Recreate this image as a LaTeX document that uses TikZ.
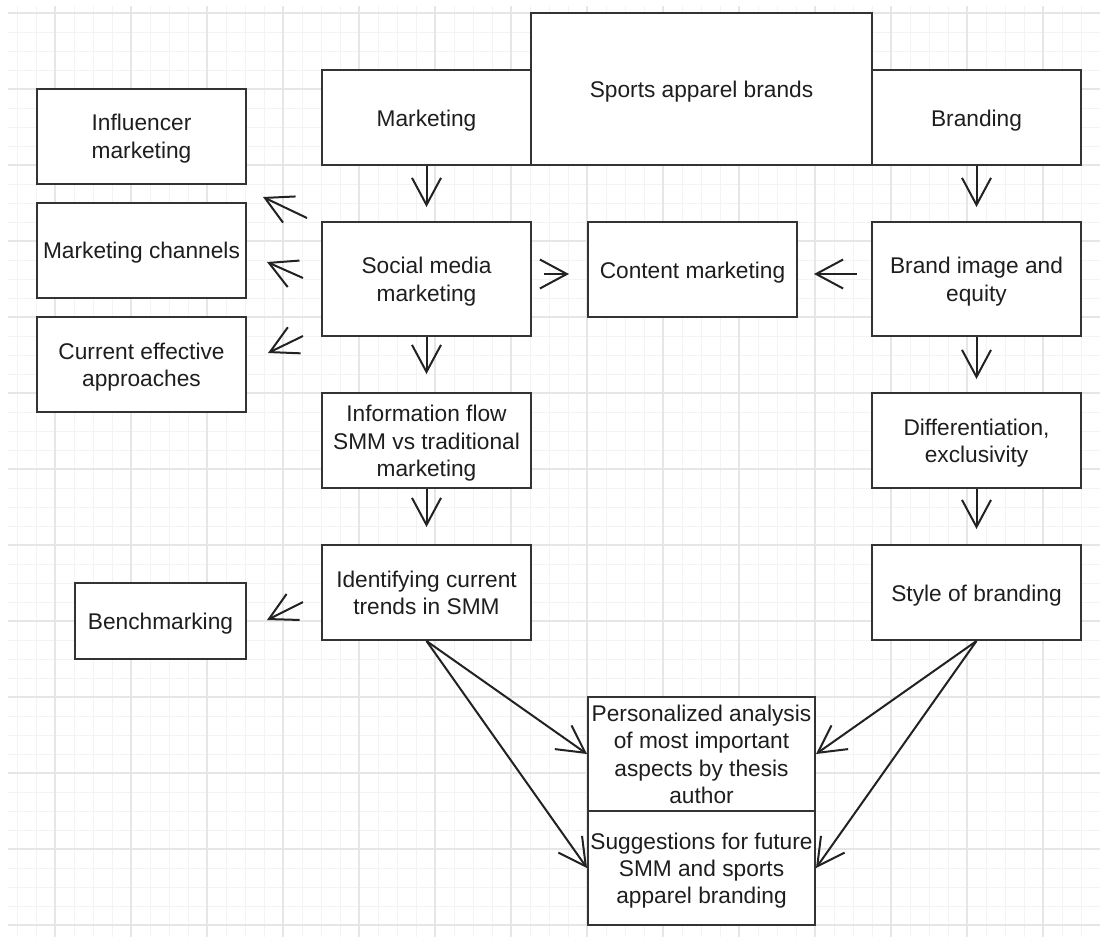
\documentclass[tikz,border=0pt]{standalone}
\usepackage{fontspec}
\setmainfont{Liberation Sans}
\usepackage{tikz}
\usetikzlibrary{arrows.meta,positioning}

\definecolor{boxline}{HTML}{333333}
\definecolor{boxtext}{HTML}{1E1E1E}
\definecolor{arrowline}{HTML}{222222}
\definecolor{minorgrid}{HTML}{F3F3F3}
\definecolor{majorgrid}{HTML}{E6E6E6}

\newcommand{\linestrut}{\rule[-5pt]{0pt}{27pt}}

\begin{document}
\begin{tikzpicture}[x=1pt,y=-1pt,->,>={Straight Barb[length=27pt,width=29pt]},line width=2pt,draw=arrowline,
  rectnode/.style={rectangle,draw=boxline,fill=white,line width=2pt,inner sep=0pt,align=center,text=boxtext,minimum width=209pt,minimum height=95pt,font=\fontsize{22.7}{27.3}\selectfont,execute at begin node=\linestrut,execute at end node=\linestrut},
  tallnode/.style={rectnode,minimum height=114pt}]

\useasboundingbox (0,0) rectangle (1100,937);
\fill[white] (0,0) rectangle (1100,937);

\foreach \gx in {17,36,...,1100} \draw[-,minorgrid,line width=1pt] (\gx,6) -- (\gx,937);
\foreach \gy in {13,32,...,937} \draw[-,minorgrid,line width=1pt] (8,\gy) -- (1100,\gy);
\foreach \gx in {55,131,...,1100} \draw[-,majorgrid,line width=1.5pt] (\gx,6) -- (\gx,937);
\foreach \gy in {13,89,...,937} \draw[-,majorgrid,line width=1.5pt] (8,\gy) -- (1100,\gy);

\node [rectnode,minimum width=341pt,minimum height=152pt] (0) at (701.5, 89) {Sports apparel brands};
\node [rectnode] (1) at (426.5, 117.5) {Marketing};
\node [rectnode] (2) at (976.5, 117.5) {Branding};
\node [rectnode] (3) at (141.5, 136) {\linestrut Influencer\\marketing};
\node [rectnode] (4) at (141.5, 250) {Marketing channels};
\node [rectnode] (5) at (141.5, 364.5) {\linestrut Current effective\\approaches};
\node [tallnode] (6) at (426.5, 279) {\linestrut Social media\\marketing};
\node [rectnode] (7) at (692.5, 269.5) {Content marketing};
\node [tallnode] (8) at (976.5, 279) {\linestrut Brand image and\\equity};
\node [rectnode] (9) at (426.5, 440.5) {\linestrut Information flow\\SMM vs traditional\\marketing};
\node [rectnode] (10) at (976.5, 440.5) {\linestrut Differentiation,\\exclusivity};
\node [rectnode] (11) at (426.5, 592.5) {\linestrut Identifying current\\trends in SMM};
\node [rectnode] (12) at (976.5, 592.5) {Style of branding};
\node [rectnode,minimum width=171pt,minimum height=76pt] (13) at (160.5, 620.5) {Benchmarking};
\node [tallnode,minimum width=227pt] (14) at (701.5, 754) {\linestrut Personalized analysis\\of most important\\aspects by thesis\\author};
\node [tallnode,minimum width=227pt] (15) at (701.5, 868) {\linestrut Suggestions for future\\SMM and sports\\apparel branding};

\coordinate (6a) at (307, 218);
\coordinate (3a) at (263, 197);
\coordinate (6b) at (303, 278);
\coordinate (4b) at (267, 262);
\coordinate (6c) at (303, 336);
\coordinate (5c) at (268, 353);
\coordinate (11d) at (303, 602);
\coordinate (13d) at (267, 620);
\coordinate (7w) at ([yshift=-4.5pt]7.west);
\coordinate (7e) at ([yshift=-4.5pt]7.east);

\draw [shorten >=14pt] (1) to (6);
\draw [shorten >=18pt] (6) to (9);
\draw [shorten >=17pt] (9) to (11);
\draw [shorten >=14pt] (2) to (8);
\draw [shorten >=13pt] (8) to (10);
\draw [shorten >=15pt] (10) to (12);
\draw [shorten <=12pt,shorten >=18pt] (6.east |- 7w) to (7w);
\draw [shorten <=14pt,shorten >=16pt] (8.west |- 7e) to (7e);
\draw (6a) to (3a);
\draw (6b) to (4b);
\draw (6c) to (5c);
\draw (11d) to (13d);
\draw (11.south) to (14.west);
\draw (11.south) to (15.west);
\draw (12.south) to (14.east);
\draw (12.south) to (15.east);
\end{tikzpicture}
\end{document}
